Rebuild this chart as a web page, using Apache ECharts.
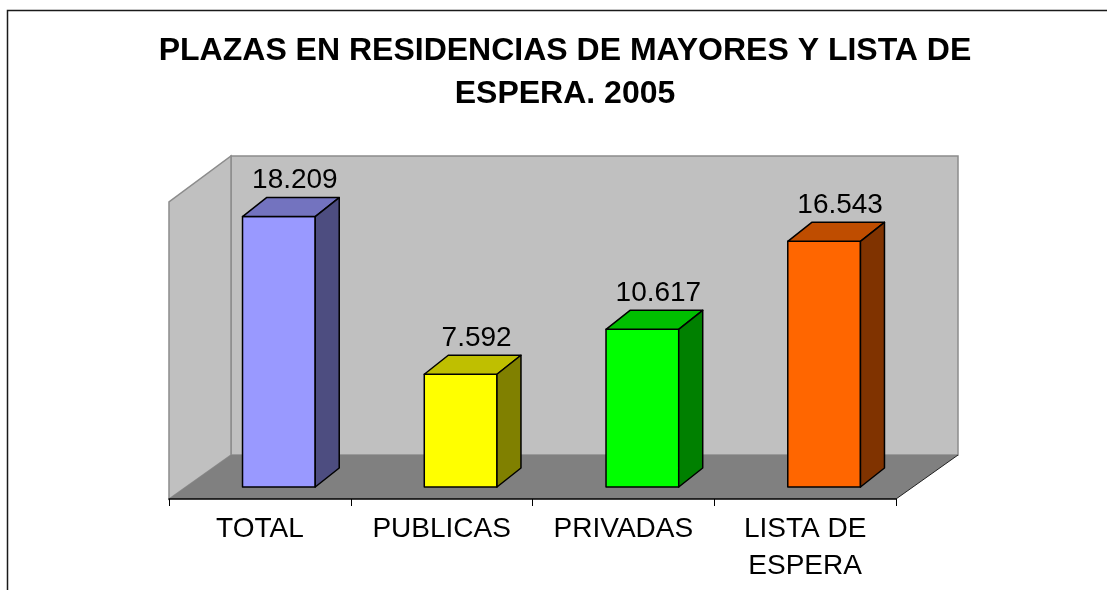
<!DOCTYPE html>
<html>
<head>
<meta charset="utf-8">
<script src="https://cdn.jsdelivr.net/npm/echarts@6/dist/echarts.min.js"></script>
<style>
  html, body { margin: 0; padding: 0; background: #fff; }
  #main { width: 1107px; height: 590px; }
</style>
</head>
<body>
<div id="main"></div>
<script>
// datos del grafico
var categorias = ['TOTAL', 'PUBLICAS', 'PRIVADAS', 'LISTA DE\nESPERA'];
var plazas = [18209, 7592, 10617, 16543];
var ejeMax = 20000;

// colores de cada barra: frente, lado, techo
var colFrente = ['#9999FF', '#FFFF00', '#00FF00', '#FF6600'];
var colLado = ['#4D4D80', '#808000', '#008000', '#803300'];
var colTecho = ['#7373BF', '#BFBF00', '#00BF00', '#BF4D00'];

var FONT = '"Liberation Sans", Arial, sans-serif';
var FONDO = [62, -44];     // profundidad de las paredes
var DESP = [19, -12];      // desplazamiento de la barra hacia atras
var PROF = [24, -19];      // profundidad de la barra

function miles(v) {
    return String(v).replace(/\B(?=(\d{3})+(?!\d))/g, '.');
}

var dom = document.getElementById('main');
var myChart = echarts.init(dom);

// paredes y suelo
function pintarParedes(params, api) {
    var r = params.coordSys;
    var x0 = r.x, x1 = r.x + r.width, yb = r.y + r.height, yt = r.y;
    var dx = FONDO[0], dy = FONDO[1];
    return {
        type: 'group',
        children: [{
            type: 'polygon',
            shape: { points: [[x0 + dx, yt + dy - 2], [x1 + dx, yt + dy - 2], [x1 + dx, yb + dy], [x0 + dx, yb + dy]] },
            style: { fill: '#C0C0C0', stroke: '#8C8C8C', lineWidth: 1.5 }
        }, {
            type: 'polygon',
            shape: { points: [[x0, yb], [x0, yt], [x0 + dx, yt + dy - 2], [x0 + dx, yb + dy]] },
            style: { fill: '#C0C0C0', stroke: '#8C8C8C', lineWidth: 1.5 }
        }, {
            type: 'polygon',
            shape: { points: [[x0, yb], [x1, yb], [x1 + dx, yb + dy], [x0 + dx, yb + dy]] },
            style: { fill: '#808080' }
        }, {
            type: 'line',
            shape: { x1: x1, y1: yb, x2: x1 + dx, y2: yb + dy },
            style: { stroke: '#222', lineWidth: 1 }
        }]
    };
}

// barras 3D
function pintarBarra(params, api) {
    var i = api.value(0);
    var v = api.value(1);
    var base = api.coord([i, 0]);
    var tope = api.coord([i, v]);
    var w = api.size([1, 0])[0] * 0.4;
    var xl = base[0] + DESP[0] - w / 2, xr = xl + w;
    var yb = base[1] + DESP[1], yt = tope[1] + DESP[1];
    var px = PROF[0], py = PROF[1];
    var borde = { stroke: '#000', lineWidth: 1.5, lineJoin: 'round' };
    return {
        type: 'group',
        children: [{
            type: 'polygon',
            shape: { points: [[xl, yt], [xr, yt], [xr, yb], [xl, yb]] },
            style: Object.assign({ fill: colFrente[i] }, borde)
        }, {
            type: 'polygon',
            shape: { points: [[xl, yt], [xl + px, yt + py], [xr + px, yt + py], [xr, yt]] },
            style: Object.assign({ fill: colTecho[i] }, borde)
        }, {
            type: 'polygon',
            shape: { points: [[xr, yt], [xr + px, yt + py], [xr + px, yb + py], [xr, yb]] },
            style: Object.assign({ fill: colLado[i] }, borde)
        }, {
            type: 'text',
            style: {
                text: miles(v),
                x: (xl + xr) / 2 + 16,
                y: yt + py - 3,
                textAlign: 'center',
                textVerticalAlign: 'bottom',
                font: '28px ' + FONT,
                fill: '#000'
            }
        }]
    };
}

var option = {
    animation: false,
    backgroundColor: '#fff',
    graphic: [{
        type: 'rect',
        shape: { x: 7.5, y: 10.5, width: 1200, height: 700 },
        style: { fill: 'none', stroke: '#1a1a1a', lineWidth: 1.5 },
        z: 100
    }, {
        type: 'text',
        style: { text: 'PLAZAS EN RESIDENCIAS DE MAYORES Y LISTA DE', x: 565, y: 51.5, textAlign: 'center', textVerticalAlign: 'middle', font: 'bold 32px ' + FONT, fill: '#000' }
    }, {
        type: 'text',
        style: { text: 'ESPERA. 2005', x: 565, y: 94.5, textAlign: 'center', textVerticalAlign: 'middle', font: 'bold 32px ' + FONT, fill: '#000' }
    }],
    grid: { left: 169, right: 211, top: 202, bottom: 91 },
    xAxis: {
        type: 'category',
        data: categorias,
        boundaryGap: true,
        axisLine: { lineStyle: { color: '#000', width: 1.5 } },
        axisTick: { show: true, length: 7, lineStyle: { color: '#000' } },
        axisLabel: { color: '#000', fontFamily: FONT, fontSize: 28, lineHeight: 37, margin: 12, interval: 0 },
        z: 10
    },
    yAxis: {
        type: 'value',
        min: 0,
        max: ejeMax,
        show: false,
        splitLine: { show: false }
    },
    series: [{
        type: 'custom',
        name: 'paredes',
        renderItem: pintarParedes,
        data: [[0, 0]],
        clip: false,
        silent: true,
        z: 1
    }, {
        type: 'custom',
        name: 'plazas',
        renderItem: pintarBarra,
        data: plazas.map(function (v, i) { return [i, v]; }),
        clip: false,
        z: 5
    }]
};

myChart.setOption(option);
</script>
</body>
</html>
